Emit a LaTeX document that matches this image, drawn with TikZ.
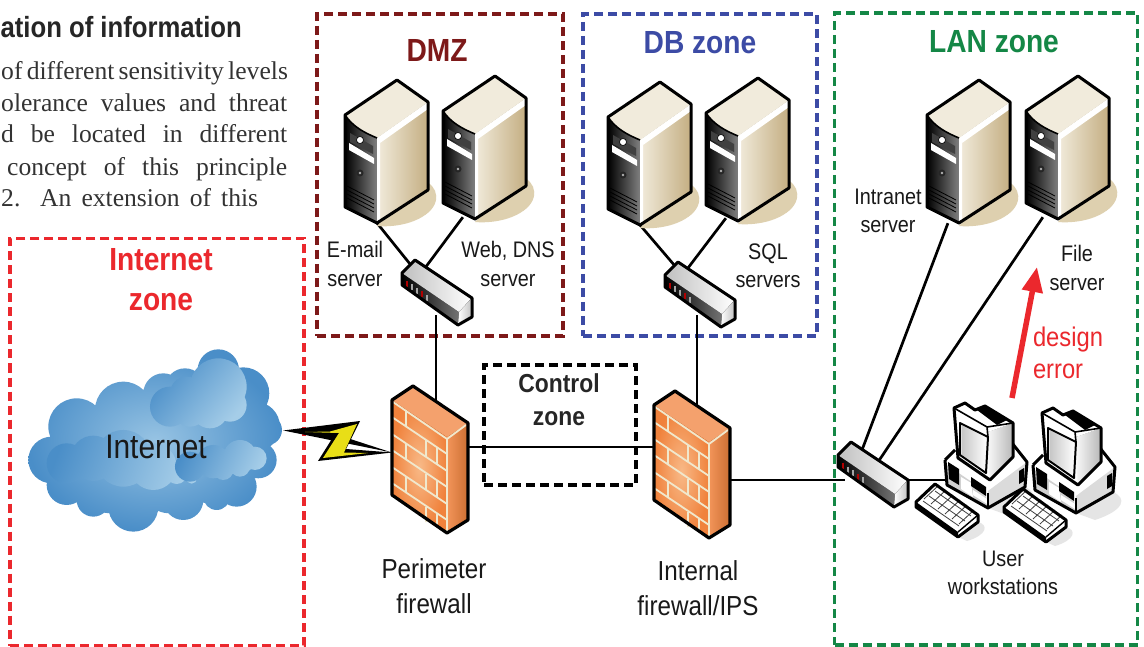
\documentclass[tikz,border=0pt]{standalone}
\usepackage{fontspec}
\setmainfont[FakeStretch=0.88]{Liberation Sans}
\newfontfamily\serifbody{Liberation Serif}
\usetikzlibrary{arrows.meta,calc}
\definecolor{dmzc}{RGB}{125,25,25}
\definecolor{dbc}{RGB}{60,75,165}
\definecolor{lanc}{RGB}{20,135,70}
\definecolor{redc}{RGB}{235,40,45}
\definecolor{beige}{RGB}{232,222,196}
\definecolor{tanc}{RGB}{196,174,130}
\definecolor{bshadow}{RGB}{222,208,175}
\definecolor{brick}{RGB}{240,130,60}
\definecolor{brickl}{RGB}{248,185,135}
\definecolor{mortar}{RGB}{240,232,205}
\definecolor{cloudd}{RGB}{74,142,200}
\definecolor{cloudl}{RGB}{165,205,232}
\tikzset{
  x=1pt,y=-1pt,
  zone/.style={line width=3.1pt,dash pattern=on 9pt off 5pt},
  wire/.style={line width=2.7pt,black},
  devline/.style={line width=3pt,black,line join=round},
  dev/.style={inner sep=0pt,minimum size=0pt},
  lbl/.style={font=\fontsize{22.5}{28.5}\selectfont,align=center,text=black!90},
  biglbl/.style={font=\fontsize{27.5}{35}\selectfont,align=center,text=black!90},
  zonetitle/.style={font=\fontsize{32}{40}\selectfont\bfseries,align=center},
  pics/server/.style={code={
    \fill[bshadow] (25,100) .. controls (42,105) and (46,125) .. (25,137) .. controls (10,146) and (-10,147) .. (-20,146) -- cycle;
    \fill[left color=black,right color=black!50] (-52,35) .. controls (-44,47) and (-32,53) .. (-20,58) -- (-20,143) -- (-52,127) -- cycle;
    \fill[left color=beige!60!white,right color=tanc] (-20,58) -- (31,22) -- (31,110) -- (-20,143) -- cycle;
    \fill[white] (-20,58) -- (31,22) -- (31,29) -- (-17,63) -- (-17,141) -- (-20,143) -- cycle;
    \fill[beige!60!white] (0,0) -- (-52,35) .. controls (-44,47) and (-32,53) .. (-20,58) -- (31,22) -- cycle;
    \fill[white] (-48,63) -- (-23,78) -- (-23,84) -- (-48,70) -- cycle;
    \fill[black!75] (-47,53) -- (-24,66) -- (-24,74) -- (-47,62) -- cycle;
    \fill[white,draw=black,line width=.6pt] (-37,60) circle (3.5);
    \fill[black!85] (-37,93) circle (3.5);
    \fill[white!70!black] (-37,93) circle (1.3);
    \foreach \d in {0,4,8,12}{\draw[black,line width=.8pt] (-50,106+\d) -- (-23,120+\d);}
    \draw[devline] (0,0) -- (-52,35) -- (-52,127) -- (-20,143) -- (31,110) -- (31,22) -- cycle;
    \draw[devline,line width=1.6pt] (-52,35) .. controls (-44,47) and (-32,53) .. (-20,58);
  }},
  pics/netswitch/.style={code={
    \fill[left color=black,right color=black!55] (-13,13) -- (44,52) -- (43,65) -- (-13,25) -- cycle;
    \fill[left color=black!25,right color=white] (0,0) -- (-13,13) -- (44,52) -- (57,38) -- cycle;
    \fill[left color=white,right color=black!25] (44,52) -- (57,38) -- (57,57) -- (43,65) -- cycle;
    \foreach \d/\c in {0/red!70!black,5/black!35,10/black!35,15/red!70!black,20/black!35}{\draw[\c,line width=1.1pt] (-8+\d,21+.7*\d) -- ++(0,6);}
    \draw[devline] (0,0) -- (-13,13) -- (-13,25) -- (43,65) -- (57,57) -- (57,38) -- cycle;
  }},
  pics/firewall/.style={code={
    \fill[brick] (0,0) -- (-21,14) -- (-21,109) -- (34,147) -- (55,134) -- (55,37) -- cycle;
    \fill[inner color=brickl,outer color=brick] (-21,14) -- (34,51) -- (34,147) -- (-21,109) -- cycle;
    \fill[left color=brick!85!white,right color=brick!85!black] (34,51) -- (55,37) -- (55,134) -- (34,147) -- cycle;
    \fill[brick!75!white] (0,0) -- (-21,14) -- (34,51) -- (55,37) -- cycle;
    \draw[mortar,line width=1.8pt]
      (-20,16) -- (34,53) -- (53,39) (34,53) -- (34,146)
      (-21,31) -- (34,68) (-21,48) -- (34,85) (-21,64) -- (34,101)
      (-21,81) -- (34,118) (-21,97) -- (34,134)
      (-7,24) -- (-7,41) (-7,57) -- (-7,74) (-7,90) -- (-7,107)
      (13,54) -- (13,71) (13,88) -- (13,104) (13,121) -- (13,136)
      (24,61) -- (24,78)  (24,95) -- (24,111)(24,128) -- (24,141);
    \draw[devline,line width=3.2pt] (0,0) -- (-21,14) -- (-21,109) -- (34,147) -- (55,134) -- (55,37) -- cycle;
  }},
  pics/workstation/.style={code={
    % shadows
    \fill[black!10] (41,105) -- (78,84) .. controls (92,90) and (90,102) .. (60,112) -- cycle;
    \fill[black!10] (11,134) -- (31,119) .. controls (42,122) and (40,132) .. (20,138) -- cycle;
    % base
    \fill[white] (-2,57) -- (11,44) -- (65,38) -- (80,59) -- (78,84) -- (41,105) -- (0,82) -- cycle;
    \fill[black!14] (41,88) -- (80,59) -- (78,84) -- (41,105) -- cycle;
    \fill[black!18] (0,62) -- (38,88) -- (41,105) -- (0,82) -- cycle;
    \fill[black] (1,59) -- (12,66) -- (12,82) -- (2,76) -- cycle;
    \fill[white] (14,74) -- (24,80) -- (26,94) -- (14,86) -- cycle;
    \fill[black] (24,74) -- (39,84) -- (39,93) -- (24,83) -- cycle;
    \fill[white] (26,87) -- (40,96) -- (40,101) -- (26,92) -- cycle;
    \fill[black] (72,68) -- (77,65) -- (77,78) -- (72,81) -- cycle;
    \draw[devline] (-2,57) -- (0,82) -- (41,105) -- (78,84) -- (80,59) -- (65,40);
    \draw[devline] (-2,57) -- (8,47);
    \draw[devline,line width=1.8pt] (41,90) -- (41,105);
    % monitor
    \fill[left color=white,right color=black!28] (38,30) -- (66,20) -- (66,54) -- (43,77) -- (38,70) -- cycle;
    \fill[white] (7,5) -- (18,0) -- (28,7) -- (38,3) -- (66,20) -- (38,30) -- cycle;
    \fill[black] (30,7) -- (38,3) -- (60,17) -- (50,22) -- cycle;
    \fill[white] (7,5) -- (38,28) -- (43,77) -- (11,55) -- cycle;
    \shade[left color=black!22,right color=white] (15,22) -- (40,35) -- (38,67) -- (15,52) -- cycle;
    \draw[devline,line width=2pt] (13,20) -- (41,34) -- (39,70) -- (13,52) -- cycle;
    \draw[devline] (7,5) -- (18,0) -- (28,7) -- (38,3) -- (66,20) -- (66,54) -- (43,77) -- (11,55) -- cycle;
    \draw[devline,line width=1.6pt] (7,5) -- (40,24) -- (66,20) (40,24) -- (41,34);
    % keyboard
    \fill[white] (-31,99) -- (-12,81) -- (31,112) -- (11,129) -- cycle;
    \fill[black] (-31,99) -- (11,129) -- (11,134) -- (-31,104) -- cycle;
    \foreach \i in {0,1,2,3,4,5}{
      \draw[black!75,line width=.8pt] (-23+7*\i,96+5*\i) -- ++(15,-14);}
    \foreach \j in {0,1,2}{
      \draw[black!75,line width=.8pt] (-24+6*\j,98-5*\j) -- ++(36,25);}
    \draw[devline] (-31,99) -- (-12,81) -- (31,112) -- (31,119) -- (11,134) -- (-31,104) -- cycle;
    \draw[devline,line width=1.4pt] (11,129) -- (31,112);
  }},
}
\begin{document}
\begin{tikzpicture}[x=1pt,y=-1pt]
\useasboundingbox (0,0) rectangle (1144,647);
\fill[white] (0,0) rectangle (1144,647);

% page text
\node[anchor=base east,font=\fontsize{29.2}{32}\selectfont\bfseries,text=black!85,inner sep=0pt] (head) at (242,38) {ation of information};
\begin{scope}[every node/.style={anchor=base west,font=\serifbody\fontsize{25.6}{28}\selectfont,text=black!80,inner sep=0pt}]
\node (b1) at (1,80) {\makebox[286pt][s]{of different sensitivity levels}};
\node (b2) at (1,112) {\makebox[286pt][s]{olerance values and threat}};
\node (b3) at (1,143) {\makebox[286pt][s]{d be located in different}};
\node (b4) at (7,176) {\makebox[280pt][s]{concept of this principle}};
\node (b5) at (1,207) {\makebox[257pt][s]{2. An extension of this}};
\end{scope}

% zones
\node[draw=redc,zone,dev,minimum width=294pt,minimum height=407pt] (zi) at (157,442) {};
\node[draw=dmzc,zone,dev,minimum width=246pt,minimum height=322pt] (zd) at (440,175) {};
\node[draw=dbc,zone,dev,minimum width=234pt,minimum height=322pt] (zb) at (700,175) {};
\node[draw=lanc,zone,dev,minimum width=303pt,minimum height=632pt] (zl) at (986,329) {};
\node[draw=black,zone,dev,minimum width=152pt,minimum height=120pt] (zc) at (560,425) {};

\node[zonetitle,text=redc] (ti) at (161,280) {Internet\\zone};
\node[zonetitle,text=dmzc] at (437,50) (td) {DMZ};
\node[zonetitle,text=dbc] at (700,43) (tb) {DB zone};
\node[zonetitle,text=lanc] at (994,42) (tl) {LAN zone};
\node[font=\fontsize{26}{33}\selectfont\bfseries,align=center,text=black!85] (tc) at (559,400) {Control\\zone};

% anchor nodes for devices
\node[dev] (s1) at (377,223) {};
\node[dev] (s2) at (463,217) {};
\node[dev] (s3) at (640,225) {};
\node[dev] (s4) at (726,218) {};
\node[dev] (s5) at (948,223) {};
\node[dev] (s6) at (1043,217) {};
\node[dev] (sw1a) at (410,264) {};
\node[dev] (sw1b) at (425,268) {};
\node[dev] (sw1c) at (436,315) {};
\node[dev] (sw2a) at (675,266) {};
\node[dev] (sw2b) at (688,268) {};
\node[dev] (sw2c) at (697,315) {};
\node[dev] (sw3a) at (862,450) {};
\node[dev] (sw3b) at (878,462) {};
\node[dev] (sw3c) at (845,480) {};
\node[dev] (sw3d) at (908,480) {};
\node[dev] (ws) at (950,480) {};
\node[dev] (fw1t) at (436,400) {};
\node[dev] (fw1r) at (468,447) {};
\node[dev] (fw2t) at (697,405) {};
\node[dev] (fw2l) at (654,447) {};
\node[dev] (fw2r) at (731,480) {};

% connectors
\draw[wire] (s1) -- (sw1a);
\draw[wire] (s2) -- (sw1b);
\draw[wire] (s3) -- (sw2a);
\draw[wire] (s4) -- (sw2b);
\draw[wire] (s5) -- (sw3a);
\draw[wire] (s6) -- (sw3b);
\draw[wire] (sw1c) -- (fw1t);
\draw[wire] (sw2c) -- (fw2t);
\draw[wire] (fw1r) -- (fw2l);
\draw[wire] (fw2r) -- (sw3c);
\draw[wire] (sw3d) -- (ws);

% cloud
\begin{scope}[shift={(10,330)},x=.3333pt,y=-.3333pt]
\shade[inner color=cloudl!85!cloudd,outer color=cloudd]
 (125,390) circle (70) (200,290) circle (85) (340,240) circle (85) (460,190) circle (60)
 (525,175) circle (60) (625,120) circle (62) (700,190) circle (78) (735,290) circle (75)
 (770,300) circle (46) (745,390) circle (55) (680,470) circle (60) (620,500) circle (40)
 (520,510) circle (60) (370,530) circle (75) (250,510) circle (50) (170,465) circle (60)
 (400,400) circle (150) (550,320) circle (150) (250,420) circle (100) (300,470) circle (80) (480,460) circle (90) (600,430) circle (90);
\shade[left color=cloudd,right color=cloudl,shading angle=50]
 (480,230) circle (60) (530,190) circle (50) (625,170) circle (85) (660,225) circle (50)
 (600,240) circle (55) (540,240) circle (50);
\shade[left color=cloudd,right color=cloudl,shading angle=70]
 (170,400) circle (60) (250,385) circle (68) (340,385) circle (85) (430,410) circle (70) (500,430) circle (32) (545,445) circle (16);
\shade[left color=cloudd,right color=cloudl,shading angle=65]
 (540,410) circle (45) (610,395) circle (50) (690,380) circle (50) (735,385) circle (35) (640,420) circle (30) (690,410) circle (30);
\end{scope}
\node[font=\fontsize{34}{38}\selectfont,text=black!90,inner sep=0pt] (inet) at (156,447) {Internet};

% lightning
\node[dev] (boltA) at (283,430.5) {};
\node[dev] (boltB) at (392,452.5) {};
\fill[black] (boltA) -- (360,421) -- (346,449) -- (boltB) -- (318,461) -- (335,434) -- cycle;
\fill[yellow!90!black] (305,432) -- (330,431.5) -- (357,424) -- (344,452.5) -- (368,453) -- (323,458) -- (339,433) -- cycle;

% devices
\pic at (397,80) {server};
\pic at (495,76) {server};
\pic at (660,82) {server};
\pic at (758,78) {server};
\pic at (979,80) {server};
\pic at (1078,76) {server};
\pic at (415,260) {netswitch};
\pic at (678,262) {netswitch};
\pic at (851,442) {netswitch};
\pic at (413,386) {firewall};
\pic at (675,391) {firewall};
\pic at (947,403) {workstation};
\pic at (1035,408) {workstation};

% labels
\node[lbl] (l1) at (355,264) {E-mail\\server};
\node[lbl] (l2) at (508,264) {Web, DNS\\server};
\node[lbl] (l3) at (768,266) {SQL\\servers};
\node[lbl] (l4) at (888,211) {Intranet\\server};
\node[lbl] (l5) at (1077,268) {File\\server};
\node[biglbl] (l6) at (434,586) {Perimeter\\firewall};
\node[biglbl] (l7) at (698,588) {Internal\\firewall/IPS};
\node[lbl] (l8) at (1003,573) {User\\workstations};
\node[font=\fontsize{27}{31.5}\selectfont,align=left,text=redc] (l9) at (1068,353) {design\\error};

% design error arrow
\coordinate (ea) at (1012,398);
\coordinate (eb) at (1037,267);
\draw[redc,line width=5.5pt,-{Triangle[length=25pt,width=20pt]}] (ea) -- (eb);
\end{tikzpicture}
\end{document}
